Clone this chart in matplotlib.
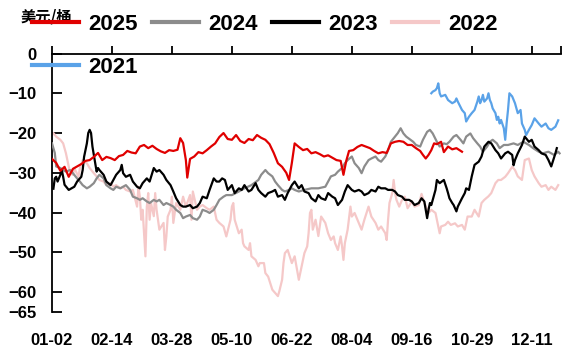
import matplotlib
matplotlib.use("Agg")
import matplotlib.pyplot as plt
from matplotlib.lines import Line2D

# ---------------- data (day index from 01-02) ----------------
days_2025 = [0, 3, 6, 9, 12, 15, 18, 21, 24, 27, 30, 33, 36, 39, 42, 45, 48, 51, 54, 57, 60, 63, 66, 69, 72, 75, 78, 81, 84, 87, 90, 92, 94, 96, 97, 99, 102, 105, 108, 111, 114, 117, 120, 123, 126, 129, 132, 135, 138, 141, 144, 147, 150, 153, 156, 159, 162, 165, 168, 170, 172, 174, 177, 180, 183, 186, 189, 192, 195, 198, 201, 204, 207, 209, 211, 213, 216, 219, 222, 225, 228, 231, 234, 237, 240, 243, 246, 249, 252, 255, 258, 261, 264, 266, 268, 270, 272, 274, 276, 279, 281, 284, 287, 290, 294]
vals_2025 = [-26.5, -27.5, -29.5, -28.5, -31, -29, -28.4, -27.8, -27, -26.8, -26, -25, -26.8, -26, -26.3, -26.8, -25.8, -25.5, -24.5, -24.9, -25.1, -23.4, -23, -23.8, -23.2, -24, -24.6, -25, -24.3, -24.5, -24.2, -21.3, -22.5, -26.8, -31.2, -26.5, -25.9, -24.8, -25.1, -24.3, -23.4, -22.6, -21, -20, -21.5, -21.7, -20.5, -22, -22.5, -21.5, -21.8, -20.5, -21.2, -21.7, -22.8, -25, -27.6, -28.5, -30, -31.8, -27.5, -22.6, -23.5, -24.3, -24, -25.1, -24.8, -25.3, -25.9, -25.6, -26.2, -26.8, -27, -30.5, -27, -24.5, -24.3, -23.5, -23, -23.4, -23.8, -24.5, -25.1, -24.8, -25, -22.6, -22.2, -22, -22.2, -23, -23, -23.8, -24.5, -25.5, -26.4, -25.5, -24.3, -22.6, -22.8, -22.2, -24.8, -23.4, -24.1, -23.8, -24.7]

days_2024 = [0, 2, 3, 6, 8, 10, 13, 15, 18, 20, 22, 25, 27, 30, 32, 34, 37, 39, 42, 44, 46, 49, 51, 53, 56, 58, 61, 63, 65, 68, 70, 73, 75, 77, 80, 82, 85, 87, 89, 92, 94, 96, 99, 101, 104, 106, 108, 111, 113, 116, 118, 120, 123, 125, 129, 134, 138, 143, 148, 150, 153, 155, 158, 160, 162, 165, 167, 170, 172, 174, 177, 181, 186, 191, 196, 198, 200, 203, 205, 208, 210, 212, 215, 217, 220, 222, 224, 227, 229, 232, 234, 236, 239, 241, 243, 246, 248, 250, 252, 254, 257, 259, 261, 264, 266, 269, 271, 273, 276, 278, 281, 283, 285, 288, 290, 293, 295, 297, 300, 302, 305, 307, 309, 312, 314, 316, 319, 321, 324, 327, 331, 334, 338, 342, 345, 349, 352, 356, 360, 363, 364]
vals_2024 = [-22.6, -25, -28.4, -28.8, -29.3, -29.7, -29.3, -30.1, -31.4, -32.2, -33.1, -33.9, -33.5, -32.6, -31.4, -30.5, -31.4, -33.1, -33.9, -34.3, -33.5, -33.9, -33.5, -33.1, -34.3, -36, -36.4, -36.8, -36.4, -37.2, -37.6, -36.8, -37.2, -36.8, -38.1, -37.6, -38.1, -38.5, -39.3, -40.1, -41.4, -41, -40.6, -41.4, -41.8, -41, -39.3, -39.7, -40.1, -39.3, -38.1, -36.8, -36, -35.6, -35.6, -34.7, -33.9, -33.1, -31.8, -30.5, -29.3, -30.1, -30.9, -32.2, -33.1, -34.3, -34.7, -34.3, -33.9, -34.3, -34.7, -34.3, -33.9, -33.9, -33.5, -32.2, -30.9, -30.5, -29.7, -28.8, -27.6, -26.8, -25.9, -27.6, -28.8, -30.1, -28.4, -26.8, -26.4, -25.9, -26.8, -27.2, -25.9, -24.3, -22.2, -20.9, -20, -18.8, -20.1, -20.9, -21.7, -22.2, -23, -23.4, -21.7, -19.7, -19.2, -20.1, -22.2, -23.4, -22.6, -22.8, -22.2, -20.9, -20.5, -21.7, -22.6, -20.9, -20.1, -21.3, -22.6, -23.4, -24.7, -23.4, -22.2, -21.7, -22.6, -23.8, -23, -23, -22.6, -23, -22.2, -23, -23.8, -24.7, -25.1, -24.7, -25.5, -24.7, -25.1]

days_2023 = [1, 2, 3, 4, 6, 7, 8, 9, 12, 14, 16, 18, 21, 22, 23, 25, 26, 27, 28, 29, 31, 32, 33, 34, 37, 39, 42, 44, 46, 49, 50, 51, 53, 56, 58, 61, 63, 65, 68, 70, 73, 75, 77, 80, 82, 85, 87, 89, 92, 94, 96, 99, 101, 104, 106, 108, 111, 113, 116, 118, 120, 122, 124, 126, 129, 131, 134, 136, 138, 141, 143, 146, 148, 150, 153, 155, 158, 160, 162, 165, 167, 169, 172, 174, 177, 179, 181, 184, 186, 189, 191, 193, 196, 198, 201, 203, 205, 208, 210, 212, 215, 217, 220, 222, 224, 227, 229, 232, 234, 236, 239, 241, 244, 246, 248, 251, 253, 256, 258, 260, 263, 265, 267, 269, 270, 271, 272, 273, 275, 276, 278, 281, 283, 284, 285, 287, 288, 289, 290, 291, 294, 296, 297, 299, 301, 303, 306, 308, 310, 313, 315, 318, 320, 322, 325, 327, 330, 331, 332, 334, 337, 339, 342, 344, 346, 349, 351, 354, 356, 358, 361, 362]
vals_2023 = [-34, -31.4, -31, -32.2, -30.5, -29.3, -31, -33, -34.3, -33.9, -33.5, -32.2, -31, -29.3, -26, -22.6, -20, -19.2, -20, -23.4, -27.6, -29.7, -28.8, -29.3, -30.5, -32.2, -33.1, -31.8, -30.5, -29.3, -28, -30.1, -31, -30.5, -32.2, -33.5, -33.9, -32.6, -31.4, -32.2, -28.8, -29.7, -29.3, -30.5, -31.8, -33.1, -34.7, -36.4, -38.1, -38.5, -38.5, -38.1, -38.9, -38.5, -37.6, -36, -36.4, -34.3, -31.4, -32.2, -32.2, -31.4, -31.8, -34.3, -33.1, -35.1, -33.9, -34.3, -33.1, -34.7, -34.3, -32.6, -34.3, -35.1, -36, -35.1, -34.7, -34.3, -36, -35.6, -36.8, -35.1, -33.1, -32.2, -33.9, -33.1, -34.7, -35.1, -36.4, -37.2, -35.6, -36.4, -36.8, -35.1, -36, -36.4, -38.1, -36.8, -34.7, -33.1, -34.3, -34.7, -34.3, -34.7, -35.6, -35.1, -34.3, -34.7, -33.5, -33.9, -33.9, -34.3, -34.3, -34.7, -35.6, -36, -36.8, -36.8, -37.2, -38.1, -37.6, -36.4, -37.2, -41.4, -39.3, -37.6, -38.1, -36.8, -34.3, -31.8, -32.6, -31.8, -33.9, -35.1, -36.4, -37.6, -38.1, -38.9, -39.7, -38.5, -36.4, -35.1, -33.9, -34.3, -30.9, -28, -27.2, -25.9, -23.4, -22.2, -22.6, -24.3, -25.1, -26.4, -25.1, -24.7, -25.5, -28.1, -26.8, -25.1, -23, -20.9, -22.2, -21.7, -23.4, -24.3, -25.1, -25.5, -26.8, -28.4, -25.1, -23.8]

days_2022 = [0, 1, 3, 6, 8, 10, 12, 13, 15, 16, 19, 20, 22, 25, 27, 30, 32, 34, 37, 39, 42, 44, 46, 49, 51, 53, 56, 58, 61, 62, 63, 64, 65, 67, 68, 69, 70, 71, 73, 74, 75, 77, 80, 81, 82, 83, 85, 86, 87, 89, 92, 94, 96, 99, 100, 101, 104, 106, 108, 111, 113, 116, 118, 120, 123, 125, 128, 129, 130, 131, 134, 136, 137, 138, 141, 142, 143, 146, 148, 149, 152, 153, 155, 158, 160, 162, 163, 165, 166, 167, 169, 172, 174, 177, 179, 181, 183, 184, 185, 186, 187, 189, 191, 193, 196, 198, 200, 202, 203, 205, 207, 208, 209, 210, 212, 214, 215, 217, 220, 222, 224, 227, 229, 232, 234, 236, 239, 240, 241, 242, 244, 245, 246, 247, 249, 251, 253, 255, 258, 260, 263, 265, 267, 270, 272, 275, 277, 278, 279, 282, 284, 286, 289, 291, 294, 296, 297, 298, 301, 303, 306, 308, 310, 313, 315, 318, 320, 322, 325, 327, 330, 332, 334, 337, 339, 342, 344, 346, 349, 351, 354, 356, 358, 361, 363]
vals_2022 = [-20.5, -20, -20.9, -21.7, -22.6, -25.1, -28.5, -30.1, -30.5, -28.8, -31, -28.8, -26.8, -27.6, -28.8, -30.1, -30.9, -31.8, -32.2, -33.1, -32.6, -33.5, -33.1, -33.9, -33.5, -34.3, -34.7, -34.3, -38.5, -33.5, -36, -41.8, -39.3, -51, -38.5, -35.1, -41.8, -37.6, -40.9, -35.1, -39.3, -44.3, -42.6, -49.4, -46, -41, -39.3, -36, -42.6, -37.6, -39.3, -36, -38.5, -35.6, -41.8, -34.7, -39.3, -38.5, -38.1, -38.9, -39.3, -38.5, -41.8, -42.6, -43.5, -46, -41.8, -38.5, -37.6, -41.8, -45.2, -44.3, -47.7, -48.5, -49.4, -47.7, -51, -51.9, -53.5, -52.7, -52.7, -55.2, -56.1, -59.4, -60.2, -61, -59.8, -56.9, -52.7, -50.2, -49.4, -52.7, -51, -56.9, -53.5, -50.2, -48.5, -45.2, -40.1, -39.3, -44.3, -41.8, -45.9, -41, -42.6, -45.2, -46.9, -46, -47.7, -49.4, -46, -48.5, -51.9, -47.7, -44.3, -38.5, -41, -40.1, -42.6, -44.3, -41.8, -38.5, -41, -42.6, -44.3, -43.5, -45.2, -46.9, -41.8, -37.6, -35.1, -31.8, -35.1, -36.8, -38.5, -36.8, -36, -38.9, -37.2, -38.5, -38.1, -35.3, -37.6, -40.1, -39.3, -40.1, -43.5, -45.2, -43.5, -43.1, -42.3, -43.1, -42.7, -43.5, -43.1, -44.3, -42.7, -41, -41, -39.3, -41, -37.6, -36.8, -35.9, -35.1, -32.6, -31.8, -31.8, -31, -30.1, -28.5, -29.3, -30.9, -31.8, -26.8, -26.4, -29.3, -30.9, -32.6, -33.5, -33.1, -34.3, -33.5, -34.3, -33.1]

days_2021 = [272, 273, 275, 276, 277, 278, 279, 282, 284, 287, 289, 290, 291, 294, 296, 297, 299, 301, 303, 305, 306, 307, 308, 309, 310, 312, 313, 314, 315, 316, 318, 319, 320, 321, 322, 324, 325, 326, 327, 328, 330, 332, 334, 336, 337, 339, 340, 342, 344, 346, 349, 351, 354, 356, 358, 361, 363]
vals_2021 = [-10, -9.6, -9.2, -8.7, -7.5, -10, -10.8, -10.4, -11.7, -12.5, -12.1, -11.3, -12.1, -14.2, -15, -17.1, -15.9, -15, -14.2, -12.1, -10.8, -12.5, -11.7, -10.4, -12.1, -11.3, -10, -11.7, -12.5, -13.8, -15, -16.7, -15.9, -17.6, -16.7, -18.8, -21.7, -17.6, -14.2, -10, -10.8, -12.5, -15, -14.2, -17.6, -19.2, -20.5, -19.2, -18, -16.3, -17.6, -18.4, -17.6, -18.8, -19.2, -18.4, -16.8]

tick_days = [0, 43, 86, 129, 172, 215, 258, 301, 344, 365]
tick_labels = ["01-02", "02-14", "03-28", "05-10", "06-22", "08-04", "09-16", "10-29", "12-11", ""]
y_ticks = [0, -10, -20, -30, -40, -50, -60, -65]
unit_label = "美元/桶"

# ---------------- figure ----------------
W, H = 562, 351
fig = plt.figure(figsize=(W / 100, H / 100), dpi=100)
ax = fig.add_axes([52 / W, 1 - 312 / H, 509 / W, (312 - 53.5) / H])

lw = 1.6
ax.plot(days_2021, vals_2021, color="#5aa2e8", lw=lw, zorder=2)
ax.plot(days_2022, vals_2022, color="#f5c8c8", lw=lw, zorder=2)
ax.plot(days_2024, vals_2024, color="#8c8c8c", lw=lw, zorder=3)
ax.plot(days_2023, vals_2023, color="#000000", lw=lw, zorder=4)
ax.plot(days_2025, vals_2025, color="#e00000", lw=lw, zorder=5)

ax.set_xlim(0, 365)
ax.set_ylim(-65, 0)

for s in ["right", "bottom"]:
    ax.spines[s].set_visible(False)
for s in ["top", "left"]:
    ax.spines[s].set_linewidth(1.3)
    ax.spines[s].set_color("black")

tick_font = "Liberation Sans"
ax.set_xticks(tick_days)
ax.set_xticklabels(tick_labels, fontfamily=tick_font, fontsize=12, fontweight="bold")
ax.tick_params(axis="x", bottom=False, top=True, labelbottom=True, labeltop=False,
               direction="out", length=6, width=1.3, pad=9)
ax.set_yticks(y_ticks)
ax.set_yticklabels([str(v).replace("-", "\u2212") for v in y_ticks],
                   fontfamily=tick_font, fontsize=12, fontweight="bold")
ax.tick_params(axis="y", direction="in", length=7, width=1.3, pad=11)

# legend
handles = {
    "2025": Line2D([], [], color="#e00000", lw=3),
    "2024": Line2D([], [], color="#8c8c8c", lw=3),
    "2023": Line2D([], [], color="#000000", lw=3),
    "2022": Line2D([], [], color="#f5c8c8", lw=3),
    "2021": Line2D([], [], color="#5aa2e8", lw=3),
}
order = ["2025", "2021", "2024", "2023", "2022"]
leg = fig.legend([handles[k] for k in order], order, loc="upper left",
                 bbox_to_anchor=(32 / W, 1 - 14 / H), ncol=4, frameon=False,
                 borderpad=0, borderaxespad=0, handlelength=2.1, handletextpad=0.45,
                 columnspacing=0.62, labelspacing=1.0,
                 prop={"family": tick_font, "size": 16, "weight": "bold"})

fig.text(21 / W, 1 - 17 / H, unit_label, fontfamily="Noto Sans CJK SC", fontsize=11,
         fontweight="bold", va="center", ha="left")

fig.savefig("out.png", dpi=100)
